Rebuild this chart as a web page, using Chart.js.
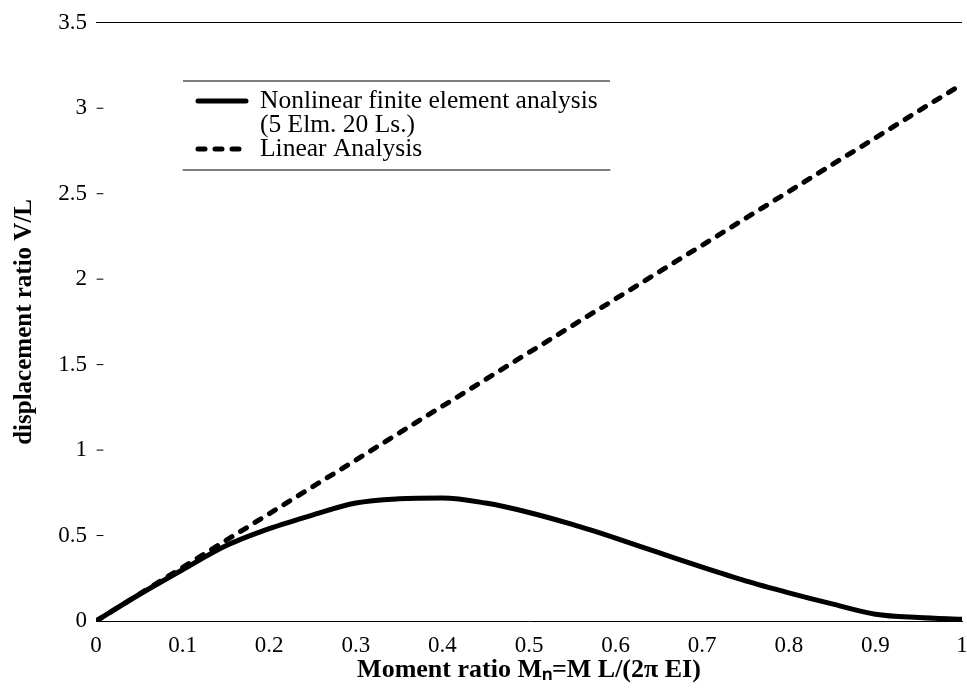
<!DOCTYPE html>
<html>
<head>
<meta charset="utf-8">
<script src="https://cdn.jsdelivr.net/npm/chart.js@4/dist/chart.umd.min.js"></script>
<style>
  html, body { margin: 0; padding: 0; background: #fff; }
  canvas { display: block; }
</style>
</head>
<body>
<canvas id="chart" width="967" height="691"></canvas>
<script>
// moment ratio steps (20 load steps)
const momentRatio = [0, 0.05, 0.1, 0.15, 0.2, 0.25, 0.3, 0.35, 0.4, 0.45, 0.5,
                     0.55, 0.6, 0.65, 0.7, 0.75, 0.8, 0.85, 0.9, 0.95, 1.0];
const nonlinearFE = [0, 0.155, 0.30, 0.44, 0.54, 0.62, 0.69, 0.715, 0.72, 0.69, 0.635,
                     0.565, 0.485, 0.40, 0.315, 0.235, 0.165, 0.10, 0.04, 0.02, 0.01];
const linearAnalysis = [0, 0.157, 0.314, 0.471, 0.628, 0.785, 0.942, 1.10, 1.257, 1.414, 1.571,
                        1.728, 1.885, 2.042, 2.199, 2.356, 2.513, 2.670, 2.827, 2.985, 3.14];
const xTicks = [0, 0.1, 0.2, 0.3, 0.4, 0.5, 0.6, 0.7, 0.8, 0.9, 1];
const yTicks = [0, 0.5, 1, 1.5, 2, 2.5, 3, 3.5];
const seriesLabels = [['Nonlinear finite element analysis', '(5 Elm. 20 Ls.)'], ['Linear Analysis']];

const serif = '"Liberation Serif", "Times New Roman", serif';

// legend with only top/bottom rules, drawn on the canvas
const boxLegend = {
    id: 'boxLegend',
    afterDraw(chart) {
        const ctx = chart.ctx;
        const x0 = 183, x1 = 610, top = 81, rowH = 24;
        ctx.save();
        ctx.strokeStyle = '#000';
        ctx.lineWidth = 1;
        ctx.beginPath();
        ctx.moveTo(x0, top); ctx.lineTo(x1, top);
        ctx.stroke();
        ctx.font = '25.5px ' + serif;
        ctx.fillStyle = '#000';
        ctx.textBaseline = 'middle';
        let y = top + 20;
        chart.data.datasets.forEach((ds, i) => {
            ctx.beginPath();
            ctx.lineWidth = ds.borderWidth;
            ctx.lineCap = ds.borderCapStyle || 'butt';
            ctx.setLineDash(ds.borderDash || []);
            ctx.moveTo(198, y); ctx.lineTo(246, y);
            ctx.stroke();
            ctx.setLineDash([]);
            seriesLabels[i].forEach((t, j) => {
                ctx.fillText(t, 260, y + j * rowH);
            });
            y += seriesLabels[i].length * rowH;
        });
        ctx.lineWidth = 1;
        ctx.beginPath();
        const bottom = y - rowH + 21;
        ctx.moveTo(x0, bottom); ctx.lineTo(x1, bottom);
        ctx.stroke();

        // small y tick marks pointing into the plot
        const ys = chart.scales.y;
        ys.ticks.forEach(t => {
            if (t.value === 0 || t.value === 3.5) return;
            const py = ys.getPixelForValue(t.value);
            ctx.beginPath();
            ctx.moveTo(chart.chartArea.left + 1, py);
            ctx.lineTo(chart.chartArea.left + 7, py);
            ctx.stroke();
        });
        ctx.restore();
    }
};

new Chart(document.getElementById('chart'), {
    type: 'line',
    data: {
        datasets: [{
            label: seriesLabels[0].join(' '),
            data: momentRatio.map((m, i) => ({ x: m, y: nonlinearFE[i] })),
            borderColor: '#000',
            borderWidth: 5,
            borderCapStyle: 'round',
            pointRadius: 0,
            cubicInterpolationMode: 'monotone',
            fill: false
        }, {
            label: seriesLabels[1][0],
            data: momentRatio.map((m, i) => ({ x: m, y: linearAnalysis[i] })),
            borderColor: '#000',
            borderWidth: 5,
            borderDash: [7, 10],
            borderCapStyle: 'round',
            pointRadius: 0,
            fill: false
        }]
    },
    options: {
        responsive: false,
        animation: false,
        layout: { padding: { left: 0, right: 0, top: 20, bottom: 0 } },
        plugins: {
            legend: { display: false },
            tooltip: { enabled: false }
        },
        scales: {
            x: {
                type: 'linear',
                min: 0,
                max: 1,
                afterBuildTicks: s => { s.ticks = xTicks.map(v => ({ value: v })); },
                afterFit: s => { s.height = 70; s.paddingRight = 5; s.paddingLeft = 0; },
                grid: { display: false, drawTicks: false },
                border: { display: true, color: '#000', width: 1 },
                ticks: {
                    color: '#000',
                    padding: 11,
                    maxRotation: 0,
                    callback: v => String(v),
                    font: { family: serif, size: 23 }
                },
                title: {
                    display: true,
                    text: 'Moment ratio M\u2099=M L/(2\u03c0 EI)',
                    color: '#000',
                    padding: { top: 0, bottom: 5 },
                    font: { family: serif, size: 26, weight: 'bold' }
                }
            },
            y: {
                min: 0,
                max: 3.5,
                afterBuildTicks: s => { s.ticks = yTicks.map(v => ({ value: v })); },
                afterFit: s => { s.width = 96; },
                border: { display: false },
                grid: {
                    drawTicks: false,
                    color: c => (c.tick && c.tick.value === 3.5) ? '#000' : 'rgba(0,0,0,0)',
                    lineWidth: 1
                },
                ticks: {
                    color: '#000',
                    padding: 9,
                    callback: v => String(v),
                    font: { family: serif, size: 23 }
                },
                title: {
                    display: true,
                    text: 'displacement ratio V/L',
                    color: '#000',
                    padding: { top: 10, bottom: 0 },
                    font: { family: serif, size: 25, weight: 'bold' }
                }
            }
        }
    },
    plugins: [boxLegend]
});
</script>
</body>
</html>
